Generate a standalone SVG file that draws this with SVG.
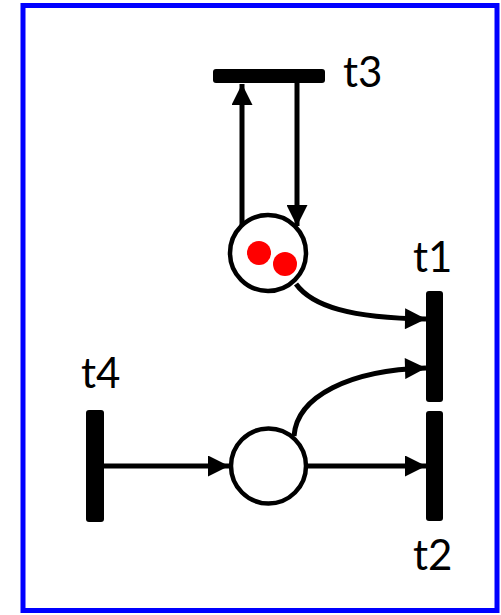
<svg xmlns="http://www.w3.org/2000/svg" width="501" height="615" viewBox="0 0 501 615">
<style>
.bar{fill:#000}
.place{fill:#fff;stroke:#000;stroke-width:4.5}
.token{fill:#ff0000}
.arc{fill:none;stroke:#000;stroke-width:5}
.lbl{font-family:Lato,"Liberation Sans",sans-serif;font-size:42px;fill:#000}
</style>
<defs>
<marker id="ah" viewBox="0 0 10 10" refX="10" refY="5" markerWidth="4.4" markerHeight="4.2" orient="auto" markerUnits="strokeWidth">
<path d="M0,0 L10,5 L0,10 z" fill="#000"/>
</marker>
</defs>
<rect x="23" y="5.5" width="474" height="605" fill="#fff" stroke="#0000ff" stroke-width="5"/>
<g id="connectors">
<line class="arc" x1="242" y1="226" x2="242" y2="84" marker-end="url(#ah)"/>
<line class="arc" x1="297" y1="83" x2="297" y2="226" marker-end="url(#ah)"/>
<path class="arc" d="M296,284 C312,306 350,318 426,319" marker-end="url(#ah)"/>
<path class="arc" d="M294,436 C297,396 350,370 426,368" marker-end="url(#ah)"/>
<line class="arc" x1="104" y1="466" x2="229" y2="466" marker-end="url(#ah)"/>
<line class="arc" x1="308" y1="466" x2="426" y2="466" marker-end="url(#ah)"/>
</g>
<g id="t3"><rect class="bar" x="213" y="69" width="112" height="14" rx="3"/><text class="lbl" x="343" y="87">t3</text></g>
<g id="t1"><rect class="bar" x="426" y="291" width="17" height="111" rx="3"/><text class="lbl" x="413" y="272">t1</text></g>
<g id="t2"><rect class="bar" x="426" y="411" width="17" height="110" rx="3"/><text class="lbl" x="413" y="570">t2</text></g>
<g id="t4"><rect class="bar" x="86" y="410" width="18" height="112" rx="3"/><text class="lbl" x="81" y="388">t4</text></g>
<g id="p1"><circle class="place" cx="268" cy="253" r="38"/><circle class="token" cx="259" cy="253" r="12"/><circle class="token" cx="285" cy="264" r="12"/></g>
<g id="p2"><circle class="place" cx="268.5" cy="466" r="37.5"/></g>
</svg>
